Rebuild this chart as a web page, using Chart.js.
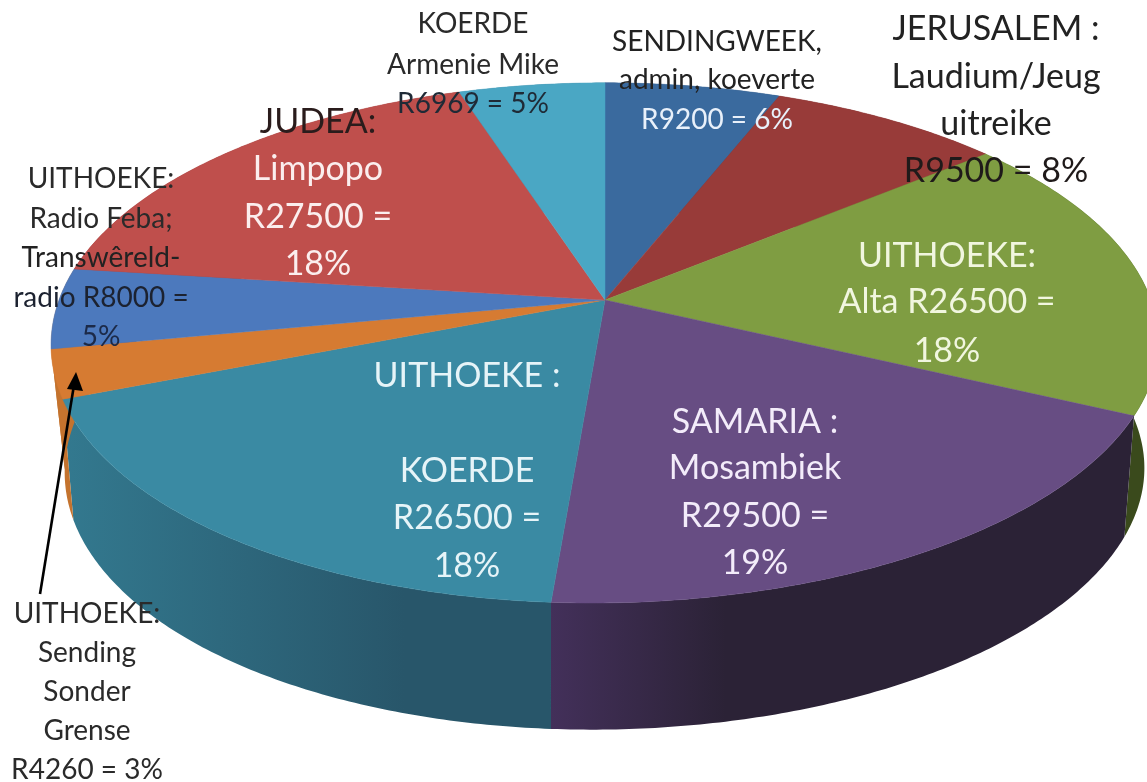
<!DOCTYPE html>
<html>
<head>
<meta charset="utf-8">
<title>Sending begroting</title>
<script src="https://cdn.jsdelivr.net/npm/chart.js@4"></script>
<style>
    html, body { margin: 0; padding: 0; background: #fff; }
    #pieChart { display: block; filter: blur(0.4px); }
</style>
</head>
<body>
<canvas id="pieChart" width="1147" height="782"></canvas>
<script>
const categories = ['SENDINGWEEK', 'JERUSALEM', 'UITHOEKE: Alta', 'SAMARIA', 'UITHOEKE: KOERDE',
    'UITHOEKE: Sending Sonder Grense', 'UITHOEKE: Radio Feba', 'JUDEA', 'KOERDE Armenie Mike'];
const rands = [9200, 9500, 26500, 29500, 26500, 4260, 8000, 27500, 6969];
const shares = [6, 8, 18, 19, 18, 3, 5, 18, 5];

const topColors = ['#3a6a9e', '#983b39', '#7f9d42', '#674d83', '#3a8aa3', '#d67b32', '#4c79bd', '#bf4f4c', '#4aa7c4'];
// left and right colour of each slice's side wall
const sideColors = [
    ['#26466a', '#26466a'], ['#642726', '#642726'], ['#3a4a1c', '#3a4a1c'], ['#43305a', '#2b2236'],
    ['#33798f', '#28566a'], ['#c4732e', '#c4732e'], ['#c4732e', '#c4732e'], ['#803533', '#803533'], ['#31708a', '#31708a']
];

const labelLines = [
    ['SENDINGWEEK,', 'admin, koeverte', 'R9200 = 6%'],
    ['JERUSALEM :', 'Laudium/Jeug', 'uitreike', 'R9500 = 8%'],
    ['UITHOEKE:', 'Alta R26500 =', '18%'],
    ['SAMARIA :', 'Mosambiek', 'R29500 =', '19%'],
    ['UITHOEKE :', 'KOERDE', 'R26500 =', '18%'],
    ['UITHOEKE:', 'Sending', 'Sonder', 'Grense', 'R4260 = 3%'],
    ['UITHOEKE:', 'Radio Feba;', 'Transwêreld-', 'radio R8000 =', '5%'],
    ['JUDEA:', 'Limpopo', 'R27500 =', '18%'],
    ['KOERDE', 'Armenie Mike', 'R6969 = 5%']
];
const labelX = [717, 996, 947, 755, 467, 87, 101, 318, 473];
const labelY = [
    [51, 89, 129], [40, 88, 135, 182], [267, 313, 362], [433, 479, 527, 574],
    [387, 482, 529, 577], [623, 662, 701, 740, 779], [188, 228, 267, 307, 346],
    [133, 180, 228, 275], [33, 74, 113]
];
const labelSize = [28, 34, 34, 34, 34, 28, 28, 34, 28];
const labelInk = [
    ['#222', '#222', '#e8f0fa'], ['#222', '#222', '#222', '#1f1a1a'], ['#f1f6df', '#f1f6df', '#f1f6df'],
    ['#f3ecfa', '#f3ecfa', '#f3ecfa', '#f3ecfa'], ['#e6f4f8', '#e6f4f8', '#e6f4f8', '#e6f4f8'],
    ['#2a2a2a', '#2a2a2a', '#2a2a2a', '#2a2a2a', '#2a2a2a'], ['#2a2a2a', '#2a2a2a', '#222', '#1c2230', '#1c2a48'],
    ['#2a1c1c', '#fbeeee', '#fbeeee', '#fbeeee'], ['#2a2a2a', '#2a2a2a', '#1f2a36']
];

// flat pie -> tilted disc, the near edge comes out bigger than the far edge
const topRim = { cx: 605, cy: 300, rx: 546, ry: 253, p: 0.165, bend: 13 };
const lowRim = { cx: 605, cy: 421, rx: 530, ry: 250, p: 0.19, bend: 13 };

function project(rim, angle, r) {
    const u = Math.cos(angle) * r, v = Math.sin(angle) * r;
    const w = 1 - rim.p * v;
    const bend = v > 0 ? rim.bend * v * v : 0;
    return [rim.cx + rim.rx * u / w - bend, rim.cy + rim.ry * v / w];
}

function traceRim(ctx, rim, from, to) {
    const steps = Math.max(2, Math.ceil(Math.abs(to - from) / 0.01));
    for (let i = 0; i <= steps; i++) {
        const p = project(rim, from + (to - from) * i / steps, 1);
        ctx.lineTo(p[0], p[1]);
    }
}

const tiltedPie = {
    id: 'tiltedPie',
    beforeDatasetsDraw(chart) {
        const ctx = chart.ctx;
        const arcs = chart.getDatasetMeta(0).data;
        ctx.save();
        // sides first, the top covers whatever sticks out behind it
        arcs.forEach((arc, i) => {
            const a = project(topRim, arc.startAngle, 1), b = project(topRim, arc.endAngle, 1);
            const grad = ctx.createLinearGradient(Math.min(a[0], b[0]), 0, Math.max(a[0], b[0]), 0);
            grad.addColorStop(0, sideColors[i][0]);
            grad.addColorStop(i === 3 ? 0.3 : 0.7, sideColors[i][1]);
            grad.addColorStop(1, sideColors[i][1]);
            ctx.beginPath();
            traceRim(ctx, topRim, arc.startAngle, arc.endAngle);
            traceRim(ctx, lowRim, arc.endAngle, arc.startAngle);
            ctx.closePath();
            ctx.fillStyle = grad;
            ctx.fill();
        });
        arcs.forEach((arc, i) => {
            ctx.beginPath();
            ctx.moveTo(topRim.cx, topRim.cy);
            traceRim(ctx, topRim, arc.startAngle, arc.endAngle);
            ctx.closePath();
            ctx.fillStyle = topColors[i];
            ctx.fill();
            ctx.strokeStyle = topColors[i];
            ctx.lineWidth = 0.5;
            ctx.stroke();
        });
        ctx.restore();
        return false;
    },
    afterDraw(chart) {
        const ctx = chart.ctx;
        ctx.save();
        // arrow from the bottom label to the orange slice
        ctx.strokeStyle = '#000';
        ctx.fillStyle = '#000';
        ctx.lineWidth = 2.6;
        ctx.beginPath();
        ctx.moveTo(40, 594);
        ctx.lineTo(74, 385);
        ctx.stroke();
        ctx.beginPath();
        ctx.moveTo(76, 372);
        ctx.lineTo(83, 391);
        ctx.lineTo(67, 389);
        ctx.closePath();
        ctx.fill();

        ctx.textAlign = 'center';
        ctx.textBaseline = 'alphabetic';
        labelLines.forEach((lines, i) => {
            ctx.font = labelSize[i] + 'px Lato';
            lines.forEach((line, j) => {
                ctx.fillStyle = labelInk[i][j];
                ctx.fillText(line, labelX[i], labelY[i][j]);
            });
        });
        ctx.restore();
    }
};

new Chart(document.getElementById('pieChart').getContext('2d'), {
    type: 'pie',
    data: {
        labels: categories,
        datasets: [{ data: shares, backgroundColor: topColors, borderWidth: 0 }]
    },
    options: {
        responsive: false,
        animation: false,
        plugins: { legend: { display: false }, tooltip: { enabled: false } }
    },
    plugins: [tiltedPie]
});
</script>
</body>
</html>
